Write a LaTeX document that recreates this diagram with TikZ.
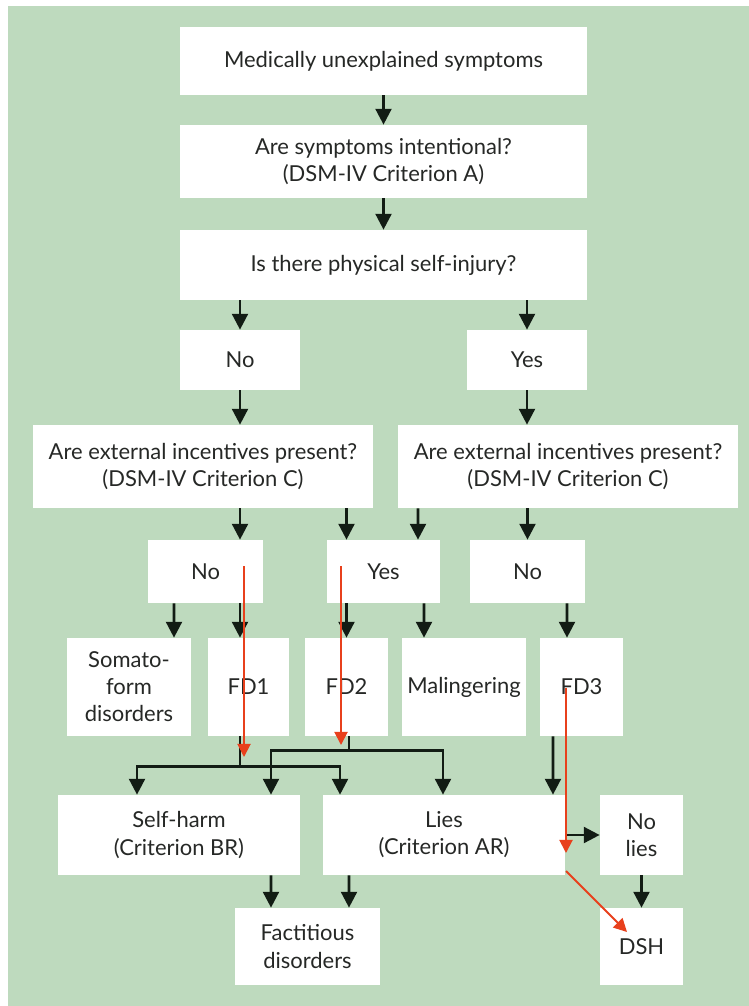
\documentclass[tikz,border=0pt]{standalone}
\usepackage{fontspec}
\setmainfont{Lato}
\usepackage{xcolor}
\usetikzlibrary{arrows.meta}
\definecolor{sage}{RGB}{190,218,190}
\definecolor{ink}{RGB}{38,40,38}
\definecolor{wire}{RGB}{18,28,20}
\definecolor{redtrace}{RGB}{232,64,28}

\begin{document}
\begin{tikzpicture}[x=0.02cm,y=-0.02cm,
  every node/.style={font=\fontsize{12.5}{15.4}\selectfont,text=ink},
  box/.style={fill=white,align=center,inner sep=0pt},
  arr/.style={wire,line width=1.5pt,-{Triangle[width=9pt,length=9pt]}},
  wireline/.style={wire,line width=1.5pt},
  redarr/.style={redtrace,line width=1.1pt,-{Triangle[width=7.5pt,length=7.5pt]}}]
\useasboundingbox (0,0) rectangle (748,1006);
\fill[white] (0,0) rectangle (748,1006);
\fill[sage] (8,6) rectangle (760,1020);
% top column
\node[box,minimum width=8.14cm,minimum height=1.36cm] (med) at (383.5,61) {Medically unexplained symptoms};
\node[box,minimum width=8.14cm,minimum height=1.46cm] (intent) at (383.5,161.5) {Are symptoms intentional?\\(DSM-IV Criterion A)};
\node[box,minimum width=8.14cm,minimum height=1.40cm] (inj) at (383.5,265) {Is there physical self-injury?};
\node[box,minimum width=2.40cm,minimum height=1.20cm] (no1) at (240,360) {No};
\node[box,minimum width=2.40cm,minimum height=1.20cm] (yes1) at (527,360) {Yes};
\node[box,minimum width=6.80cm,minimum height=1.66cm] (extL) at (203,466.5) {Are external incentives present?\\(DSM-IV Criterion C)};
\node[box,minimum width=6.80cm,minimum height=1.66cm] (extR) at (568,466.5) {Are external incentives present?\\(DSM-IV Criterion C)};
\node[box,minimum width=2.30cm,minimum height=1.26cm] (no2) at (205.5,571.5) {No};
\node[box,minimum width=2.26cm,minimum height=1.26cm] (yes2) at (383.5,571.5) {Yes};
\node[box,minimum width=2.30cm,minimum height=1.26cm] (no3) at (527.5,571.5) {No};
% outcome row
\node[box,minimum width=2.48cm,minimum height=1.96cm] (soma) at (129,687) {Somato-\\form\\disorders};
\node[box,minimum width=1.62cm,minimum height=1.96cm] (fd1) at (248.5,687) {FD1};
\node[box,minimum width=1.66cm,minimum height=1.96cm] (fd2) at (346.5,687) {FD2};
\node[box,minimum width=2.48cm,minimum height=1.96cm] (mal) at (464,687) {Malingering};
\node[box,minimum width=1.66cm,minimum height=1.96cm] (fd3) at (581.5,687) {FD3};
\node[box,minimum width=4.84cm,minimum height=1.60cm] (self) at (179,835) {Self-harm\\(Criterion BR)};
\node[box,minimum width=4.84cm,minimum height=1.60cm] (lies) at (444,835) {Lies\\(Criterion AR)};
\node[box,minimum width=1.66cm,minimum height=1.60cm] (nolies) at (641.5,835) {No\\lies};
\node[box,minimum width=2.90cm,minimum height=1.54cm] (fact) at (307.5,946.5) {Factitious\\disorders};
\node[box,minimum width=1.66cm,minimum height=1.54cm] (dsh) at (641.5,946.5) {DSH};
% connectors
\draw[arr] (med) -- (intent);
\draw[arr] (intent) -- (inj);
\draw[arr] (inj.south -| no1) -- (no1);
\draw[arr] (inj.south -| yes1) -- (yes1);
\draw[arr] (no1) -- (no1 |- extL.north);
\draw[arr] (yes1) -- (yes1 |- extR.north);
\draw[arr] (extL.south -| no1) -- (no1 |- no2.north);
\draw[arr] (extL.south -| fd2) -- (fd2 |- yes2.north);
\draw[arr] ([xshift=-3cm]extR.south) -- ([xshift=.69cm]yes2.north);
\draw[arr] (extR.south -| no3) -- (no3);
\draw[arr] ([xshift=-.63cm]no2.south) -- ([xshift=.9cm]soma.north);
\draw[arr] (no2.south -| no1) -- (fd1.north -| no1);
\draw[arr] (yes2.south -| fd2) -- (fd2);
\draw[arr] ([xshift=.81cm]yes2.south) -- ([xshift=-.8cm]mal.north);
\draw[arr] ([xshift=.79cm]no3.south) -- ([xshift=-.29cm]fd3.north);
\draw[wireline] (fd1.south -| no1) -- ++(0,30) coordinate (j1);
\draw[arr] (j1) -| ([xshift=-.84cm]self.north);
\draw[arr] (j1) -| ([xshift=-2.08cm]lies.north);
\draw[wireline] ([xshift=.05cm]fd2.south) -- ++(0,14) coordinate (j2);
\draw[arr] (j2) -| ([xshift=1.84cm]self.north);
\draw[arr] (j2) -| ([xshift=-.02cm]lies.north);
\draw[arr] ([xshift=-.57cm]fd3.south) -- ([xshift=2.18cm]lies.north);
\draw[arr] (lies) -- (nolies);
\draw[arr] (nolies) -- (dsh);
\draw[arr] ([xshift=1.84cm]self.south) -- ([xshift=-.73cm]fact.north);
\draw[arr] ([xshift=-1.9cm]lies.south) -- ([xshift=.83cm]fact.north);
% red paths
\coordinate (r1a) at (244,566);
\coordinate (r1b) at (244,757);
\coordinate (r2a) at (341,566);
\coordinate (r2b) at (341,745);
\coordinate (r3a) at (566,688);
\coordinate (r3b) at (566,853);
\coordinate (r4a) at (566,871);
\coordinate (r4b) at (627,932);
\draw[redarr] (r1a) -- (r1b);
\draw[redarr] (r2a) -- (r2b);
\draw[redarr] (r3a) -- (r3b);
\draw[redarr] (r4a) -- (r4b);
\end{tikzpicture}
\end{document}
